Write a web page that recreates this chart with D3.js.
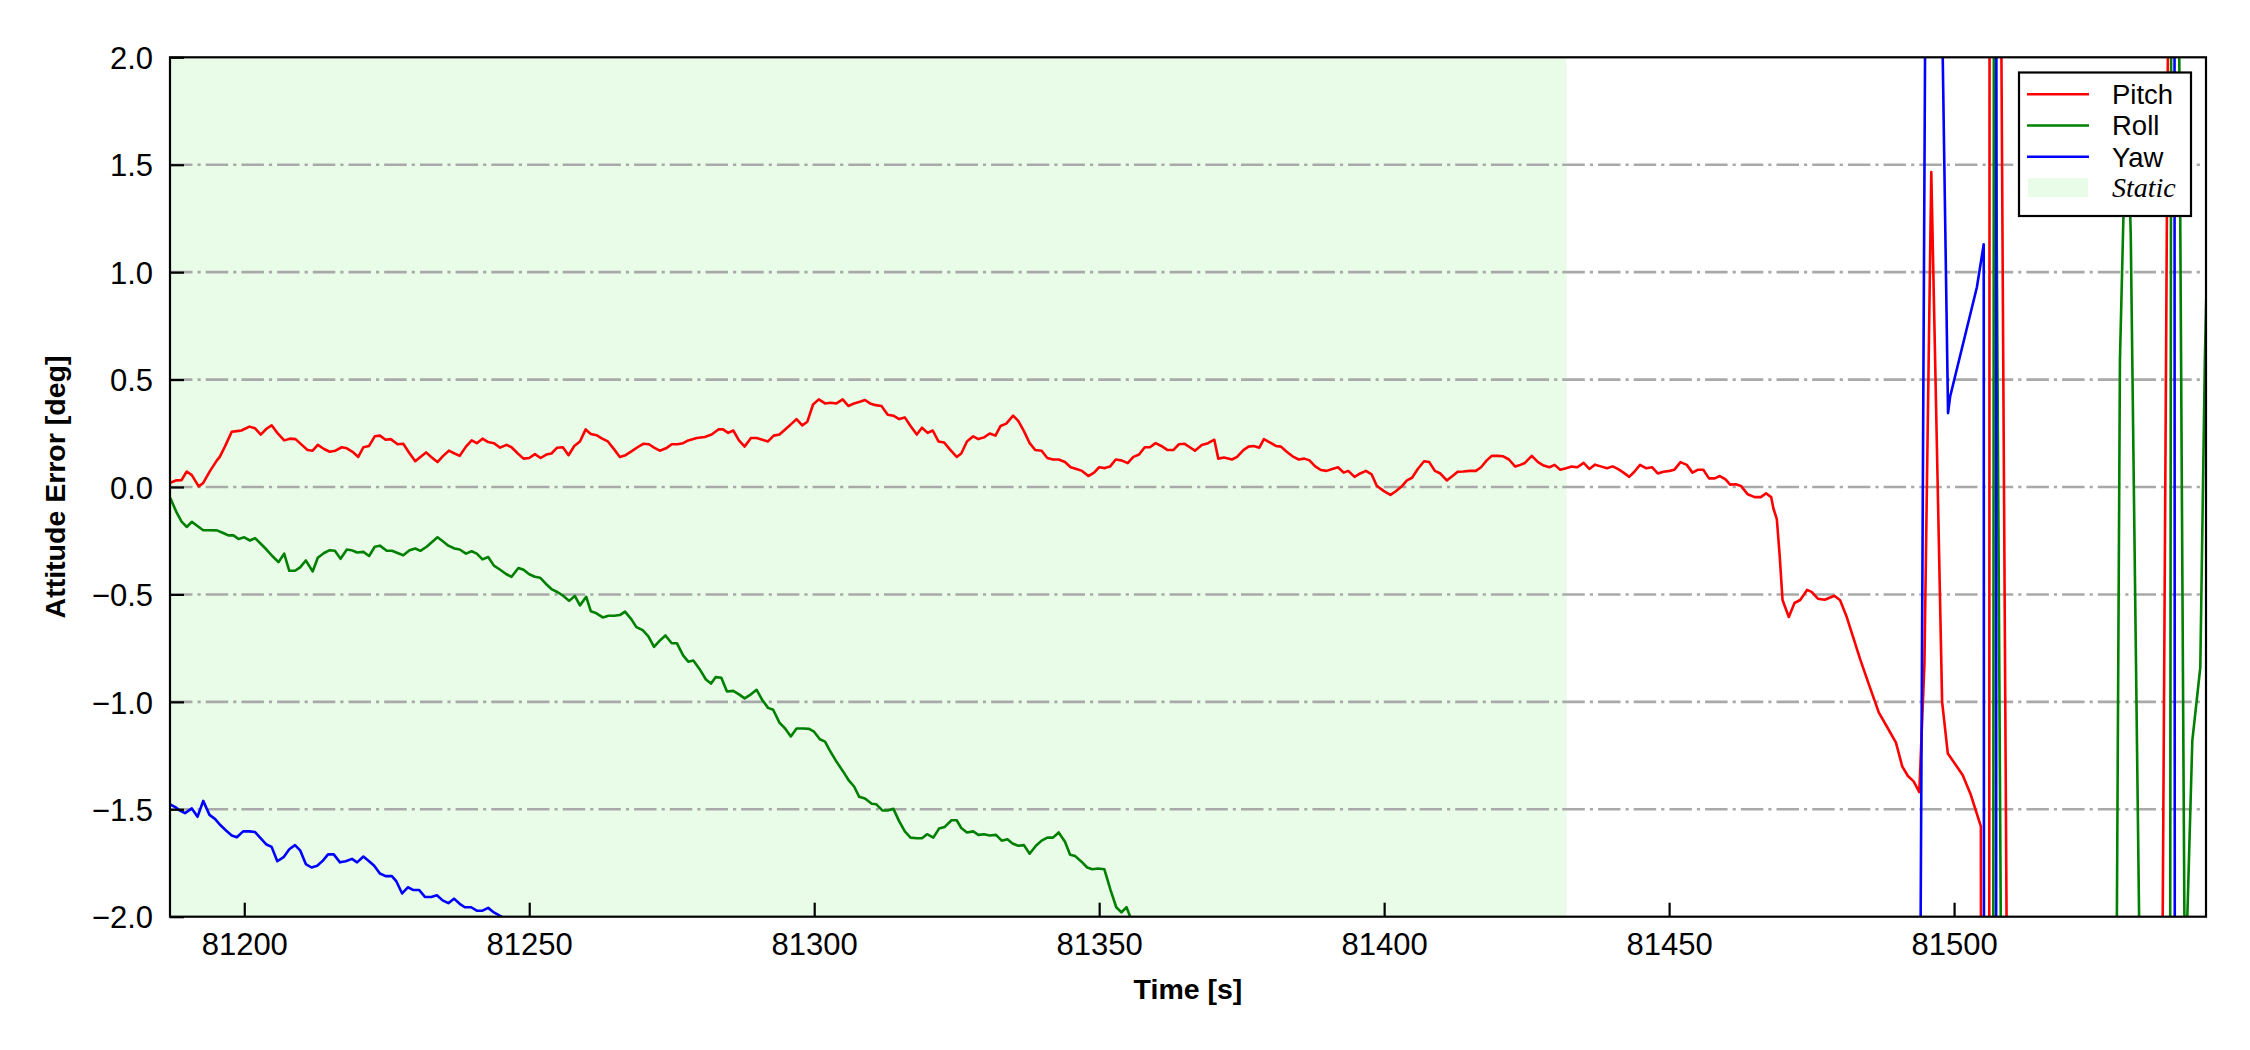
<!DOCTYPE html>
<html>
<head>
<meta charset="utf-8">
<script src="https://cdn.jsdelivr.net/npm/d3@7"></script>
<style>
  html, body { margin: 0; padding: 0; background: #ffffff; }
  svg { display: block; }
</style>
</head>
<body>
<svg id="chart" width="2250" height="1050"></svg>
<script>
// ---------------- DATA ----------------
const xDomain = [81186.97, 81544.2];
const yDomain = [-2, 2];
const xTickValues = [81200, 81250, 81300, 81350, 81400, 81450, 81500];
const yTickValues = [-2.0, -1.5, -1.0, -0.5, 0.0, 0.5, 1.0, 1.5, 2.0];
const staticSpan = [81180, 81432];
const seriesNames = ["Pitch", "Roll", "Yaw"];
const seriesColors = ["#ff0000", "#008000", "#0000ff"];

const pitch = [[81187.0,0.020],[81188.1,0.031],[81189.0,0.032],[81189.9,0.072],[81190.8,0.055],[81192.0,0.003],[81192.8,0.019],[81194.0,0.075],[81195.2,0.124],[81195.7,0.140],[81196.6,0.188],[81197.8,0.257],[81198.7,0.260],[81199.5,0.263],[81200.9,0.281],[81201.9,0.273],[81202.9,0.244],[81203.9,0.271],[81204.8,0.287],[81205.8,0.252],[81207.0,0.217],[81208.0,0.225],[81209.0,0.223],[81210.1,0.196],[81211.1,0.172],[81212.0,0.169],[81212.9,0.196],[81214.0,0.177],[81215.0,0.164],[81216.0,0.169],[81217.1,0.185],[81218.0,0.180],[81219.0,0.164],[81220.0,0.140],[81220.9,0.185],[81221.9,0.191],[81222.9,0.236],[81223.8,0.239],[81224.8,0.220],[81225.7,0.223],[81226.9,0.199],[81227.9,0.201],[81228.9,0.161],[81230.0,0.120],[81230.9,0.140],[81231.9,0.161],[81232.9,0.137],[81233.9,0.116],[81234.9,0.145],[81235.9,0.169],[81236.9,0.156],[81237.8,0.145],[81238.9,0.188],[81239.9,0.217],[81240.8,0.204],[81241.8,0.225],[81242.8,0.209],[81243.8,0.204],[81244.9,0.183],[81246.0,0.196],[81246.9,0.185],[81248.0,0.156],[81249.0,0.132],[81250.0,0.135],[81251.0,0.153],[81252.0,0.135],[81253.0,0.151],[81253.9,0.156],[81254.9,0.183],[81255.9,0.185],[81256.9,0.148],[81257.9,0.191],[81258.9,0.212],[81259.9,0.268],[81260.8,0.247],[81261.8,0.241],[81262.8,0.225],[81263.8,0.212],[81264.9,0.175],[81265.9,0.140],[81266.9,0.148],[81268.0,0.167],[81269.0,0.185],[81270.0,0.201],[81271.0,0.199],[81271.9,0.183],[81272.9,0.169],[81274.0,0.180],[81275.0,0.199],[81276.0,0.199],[81277.0,0.204],[81277.9,0.217],[81279.4,0.228],[81280.8,0.233],[81282.0,0.244],[81283.2,0.268],[81284.0,0.268],[81284.9,0.252],[81285.8,0.263],[81286.8,0.217],[81287.8,0.188],[81288.9,0.228],[81289.9,0.228],[81290.9,0.220],[81291.9,0.212],[81292.9,0.239],[81293.9,0.244],[81294.9,0.268],[81295.8,0.289],[81296.9,0.316],[81297.9,0.287],[81298.8,0.304],[81299.8,0.384],[81300.8,0.408],[81301.9,0.389],[81302.9,0.392],[81303.9,0.389],[81305.0,0.408],[81306.0,0.377],[81307.0,0.389],[81308.0,0.397],[81308.9,0.405],[81309.8,0.389],[81310.8,0.381],[81311.8,0.377],[81312.9,0.336],[81313.9,0.332],[81314.9,0.316],[81315.9,0.324],[81316.9,0.284],[81318.0,0.244],[81318.9,0.276],[81319.9,0.252],[81320.8,0.263],[81321.8,0.212],[81322.8,0.207],[81323.8,0.175],[81325.0,0.140],[81325.8,0.156],[81326.8,0.212],[81327.9,0.236],[81328.8,0.223],[81329.8,0.231],[81330.8,0.249],[81331.8,0.239],[81332.7,0.284],[81333.7,0.295],[81334.9,0.332],[81335.8,0.308],[81336.8,0.260],[81337.8,0.204],[81338.8,0.172],[81339.9,0.169],[81340.9,0.135],[81341.9,0.128],[81342.9,0.128],[81344.0,0.116],[81345.0,0.092],[81346.0,0.084],[81347.0,0.075],[81348.1,0.051],[81349.1,0.067],[81350.0,0.092],[81351.0,0.088],[81351.9,0.095],[81352.9,0.128],[81353.9,0.124],[81355.0,0.111],[81356.0,0.140],[81357.0,0.151],[81358.0,0.185],[81358.9,0.185],[81359.9,0.204],[81360.9,0.191],[81362.0,0.172],[81363.0,0.172],[81364.0,0.199],[81365.0,0.201],[81365.9,0.185],[81366.8,0.169],[81368.0,0.196],[81369.1,0.204],[81369.8,0.215],[81370.2,0.220],[81370.9,0.132],[81371.9,0.137],[81373.3,0.128],[81374.2,0.140],[81375.3,0.172],[81376.2,0.188],[81377.1,0.191],[81378.1,0.183],[81378.9,0.223],[81380.0,0.207],[81381.0,0.191],[81381.9,0.188],[81382.9,0.164],[81384.1,0.140],[81385.0,0.128],[81386.0,0.132],[81386.9,0.124],[81387.9,0.096],[81388.9,0.079],[81389.9,0.075],[81390.9,0.084],[81391.9,0.092],[81392.9,0.067],[81393.7,0.075],[81394.8,0.047],[81395.8,0.063],[81396.8,0.075],[81397.8,0.059],[81398.7,0.006],[81399.9,-0.018],[81401.1,-0.037],[81402.0,-0.021],[81403.1,0.003],[81404.0,0.031],[81404.9,0.043],[81405.9,0.084],[81407.0,0.120],[81407.9,0.116],[81408.9,0.075],[81409.8,0.064],[81411.0,0.031],[81412.0,0.051],[81412.9,0.071],[81413.9,0.072],[81415.0,0.075],[81416.1,0.075],[81417.0,0.092],[81418.0,0.124],[81418.9,0.145],[81419.9,0.145],[81420.9,0.143],[81421.9,0.128],[81423.0,0.095],[81423.9,0.103],[81424.7,0.112],[81425.9,0.145],[81427.0,0.116],[81428.0,0.100],[81429.0,0.092],[81429.9,0.103],[81430.9,0.080],[81431.9,0.087],[81432.9,0.095],[81433.9,0.092],[81435.0,0.112],[81436.0,0.084],[81437.0,0.104],[81438.0,0.096],[81439.1,0.087],[81440.1,0.096],[81441.0,0.084],[81442.0,0.067],[81443.0,0.047],[81443.9,0.071],[81444.9,0.103],[81446.0,0.087],[81447.0,0.092],[81448.0,0.063],[81449.0,0.071],[81450.1,0.075],[81450.9,0.080],[81452.0,0.116],[81453.1,0.103],[81454.1,0.067],[81455.0,0.080],[81456.0,0.080],[81457.0,0.040],[81458.0,0.040],[81458.9,0.051],[81459.9,0.035],[81460.7,0.011],[81461.7,0.013],[81462.6,0.005],[81463.8,-0.034],[81465.0,-0.047],[81466.1,-0.047],[81467.0,-0.029],[81467.9,-0.047],[81468.3,-0.100],[81468.9,-0.150],[81469.4,-0.320],[81469.9,-0.526],[81471.0,-0.605],[81472.0,-0.540],[81473.0,-0.526],[81474.2,-0.479],[81475.0,-0.488],[81476.1,-0.520],[81477.3,-0.525],[81479.0,-0.506],[81480.0,-0.527],[81481.1,-0.600],[81482.3,-0.700],[81483.5,-0.800],[81485.0,-0.915],[81486.8,-1.050],[81488.1,-1.110],[81489.8,-1.190],[81490.9,-1.300],[81491.9,-1.345],[81492.9,-1.370],[81493.9,-1.420],[81494.8,-0.820],[81496.0,1.466],[81497.9,-1.000],[81498.9,-1.240],[81501.5,-1.340],[81502.9,-1.430],[81504.7,-1.580],[81505.7,-40],[81506.7,40],[81507.7,4.7],[81509.7,-4.2],[81536.0,-4.7],[81538.0,4.2],[81546.0,5.0]];

const roll = [[81187.0,-0.050],[81188.1,-0.117],[81189.0,-0.161],[81189.9,-0.186],[81190.8,-0.162],[81191.6,-0.178],[81192.8,-0.201],[81194.0,-0.201],[81195.2,-0.202],[81196.3,-0.214],[81197.2,-0.225],[81198.1,-0.225],[81199.0,-0.242],[81200.0,-0.234],[81201.0,-0.249],[81201.9,-0.238],[81202.8,-0.262],[81203.9,-0.291],[81205.1,-0.326],[81206.0,-0.350],[81207.0,-0.310],[81207.9,-0.390],[81208.9,-0.390],[81209.8,-0.374],[81210.8,-0.342],[81212.0,-0.393],[81212.9,-0.329],[81214.0,-0.307],[81215.0,-0.294],[81215.9,-0.297],[81216.9,-0.334],[81218.0,-0.291],[81218.8,-0.294],[81219.8,-0.305],[81220.9,-0.302],[81221.9,-0.321],[81222.9,-0.278],[81223.8,-0.273],[81225.0,-0.297],[81225.9,-0.297],[81226.9,-0.307],[81227.9,-0.318],[81229.0,-0.294],[81230.0,-0.286],[81230.9,-0.297],[81232.0,-0.278],[81232.9,-0.257],[81233.9,-0.234],[81234.9,-0.254],[81235.8,-0.273],[81236.9,-0.286],[81237.8,-0.291],[81238.9,-0.310],[81239.9,-0.299],[81240.8,-0.310],[81241.8,-0.337],[81242.8,-0.326],[81243.8,-0.366],[81244.9,-0.385],[81246.0,-0.406],[81246.9,-0.418],[81248.1,-0.377],[81249.0,-0.385],[81250.0,-0.406],[81251.0,-0.418],[81251.9,-0.422],[81252.9,-0.450],[81253.9,-0.475],[81255.0,-0.490],[81256.0,-0.507],[81257.0,-0.530],[81258.0,-0.507],[81258.9,-0.551],[81260.0,-0.511],[81260.8,-0.578],[81261.8,-0.588],[81262.9,-0.607],[81263.9,-0.599],[81264.9,-0.599],[81265.9,-0.596],[81266.8,-0.580],[81267.9,-0.615],[81268.8,-0.652],[81269.9,-0.666],[81270.9,-0.695],[81271.9,-0.744],[81272.9,-0.715],[81273.9,-0.691],[81275.0,-0.727],[81275.9,-0.727],[81277.0,-0.784],[81277.9,-0.813],[81278.8,-0.808],[81279.9,-0.848],[81281.0,-0.896],[81281.9,-0.915],[81282.7,-0.885],[81283.7,-0.888],[81284.7,-0.952],[81285.8,-0.949],[81286.8,-0.965],[81287.8,-0.984],[81288.9,-0.965],[81289.9,-0.944],[81290.9,-0.992],[81291.9,-1.028],[81292.8,-1.037],[81293.9,-1.097],[81294.9,-1.124],[81295.9,-1.161],[81296.9,-1.124],[81298.1,-1.124],[81299.1,-1.126],[81299.9,-1.137],[81301.0,-1.174],[81301.9,-1.185],[81302.7,-1.225],[81303.9,-1.278],[81305.1,-1.325],[81306.1,-1.367],[81307.0,-1.394],[81307.9,-1.442],[81308.9,-1.450],[81310.1,-1.474],[81310.9,-1.477],[81312.0,-1.506],[81312.9,-1.506],[81313.9,-1.498],[81314.9,-1.555],[81315.9,-1.603],[81316.9,-1.632],[81318.0,-1.635],[81318.9,-1.635],[81319.8,-1.616],[81320.9,-1.632],[81321.9,-1.590],[81322.9,-1.582],[81324.1,-1.551],[81325.0,-1.551],[81325.8,-1.587],[81326.8,-1.608],[81327.9,-1.603],[81328.8,-1.619],[81329.8,-1.616],[81330.8,-1.622],[81331.9,-1.619],[81332.9,-1.646],[81333.9,-1.640],[81334.8,-1.659],[81335.8,-1.670],[81336.8,-1.667],[81337.8,-1.707],[81338.9,-1.670],[81339.9,-1.646],[81340.9,-1.632],[81341.9,-1.632],[81342.9,-1.608],[81344.0,-1.651],[81344.9,-1.712],[81345.8,-1.718],[81346.9,-1.744],[81347.9,-1.771],[81348.8,-1.779],[81349.8,-1.776],[81350.9,-1.779],[81352.0,-1.876],[81353.0,-1.956],[81353.9,-1.980],[81354.8,-1.956],[81355.5,-2.004],[81356.5,-2.08],[81400.0,-3.0],[81450.0,-4.2],[81500.0,-5.5],[81506.3,-30],[81507.0,3.3],[81509.0,-5.6],[81528.5,-2.3],[81529.1,0.59],[81530.3,1.9],[81531.0,1.17],[81532.6,-2.3],[81537.2,-20],[81538.3,7.4],[81540.5,-2.4],[81541.8,-1.18],[81543.2,-0.84],[81544.0,0.59],[81544.6,1.3]];

const yaw = [[81187.0,-1.477],[81187.9,-1.490],[81188.7,-1.506],[81189.6,-1.518],[81190.8,-1.496],[81191.8,-1.535],[81192.8,-1.461],[81193.9,-1.526],[81194.9,-1.546],[81195.7,-1.571],[81196.8,-1.599],[81197.8,-1.622],[81198.7,-1.630],[81199.8,-1.603],[81200.9,-1.603],[81201.9,-1.606],[81202.9,-1.635],[81203.9,-1.664],[81204.8,-1.675],[81205.8,-1.742],[81206.9,-1.723],[81207.9,-1.686],[81208.9,-1.667],[81209.8,-1.691],[81210.8,-1.755],[81211.8,-1.771],[81212.8,-1.763],[81213.8,-1.739],[81214.7,-1.710],[81215.7,-1.710],[81216.8,-1.747],[81217.8,-1.742],[81218.9,-1.731],[81219.8,-1.747],[81220.9,-1.720],[81221.9,-1.742],[81222.8,-1.763],[81223.8,-1.799],[81224.8,-1.811],[81225.9,-1.811],[81226.7,-1.836],[81227.7,-1.892],[81228.7,-1.863],[81229.7,-1.876],[81230.7,-1.876],[81231.7,-1.908],[81232.8,-1.908],[81233.8,-1.900],[81234.8,-1.924],[81235.8,-1.937],[81236.8,-1.916],[81237.8,-1.940],[81238.7,-1.956],[81239.8,-1.956],[81240.8,-1.972],[81241.8,-1.972],[81242.8,-1.959],[81243.8,-1.980],[81244.9,-1.996],[81245.5,-2.007],[81247.0,-2.05],[81300.0,-2.6],[81400.0,-3.6],[81493.5,-5.3],[81495.5,5.1],[81497.5,2.9],[81498.94,0.344],[81499.3,0.42],[81504.0,0.93],[81505.2,1.13],[81505.7,-40],[81507.0,-40],[81507.8,40],[81538.3,40],[81539.1,-40],[81546.0,-30]];

const seriesData = [pitch, roll, yaw];

// ---------------- LAYOUT ----------------
const plot = { left: 170, right: 2206, top: 57.3, bottom: 916.7 };
const svg = d3.select("#chart");
svg.append("rect").attr("width", 2250).attr("height", 1050).attr("fill", "#ffffff");

const x = d3.scaleLinear().domain(xDomain).range([plot.left, plot.right]);
const y = d3.scaleLinear().domain(yDomain).range([plot.bottom, plot.top]);

svg.append("defs").append("clipPath").attr("id", "plotClip")
  .append("rect")
  .attr("x", plot.left).attr("y", plot.top)
  .attr("width", plot.right - plot.left).attr("height", plot.bottom - plot.top);

const g = svg.append("g").attr("clip-path", "url(#plotClip)");

// static span
g.append("rect")
  .attr("x", x(staticSpan[0]))
  .attr("y", plot.top)
  .attr("width", x(staticSpan[1]) - x(staticSpan[0]))
  .attr("height", plot.bottom - plot.top)
  .attr("fill", "rgb(232,252,232)");

// grid
g.selectAll("line.grid")
  .data(yTickValues.filter(v => v > yDomain[0] && v < yDomain[1]))
  .enter().append("line")
  .attr("class", "grid")
  .attr("x1", plot.left).attr("x2", plot.right)
  .attr("y1", d => y(d)).attr("y2", d => y(d))
  .attr("stroke", "#a9a9a9")
  .attr("stroke-width", 2.6)
  .attr("stroke-dasharray", "22.5,5,3.2,5");

// series
const line = d3.line().x(d => x(d[0])).y(d => y(d[1]));
seriesData.forEach((data, i) => {
  g.append("path")
    .datum(data)
    .attr("d", line)
    .attr("fill", "none")
    .attr("stroke", seriesColors[i])
    .attr("stroke-width", 2.6)
    .attr("stroke-linejoin", "round");
});

// frame
svg.append("rect")
  .attr("x", plot.left).attr("y", plot.top)
  .attr("width", plot.right - plot.left).attr("height", plot.bottom - plot.top)
  .attr("fill", "none").attr("stroke", "#000").attr("stroke-width", 2.2);

// axes
const fmtY = d => (d < 0 ? "\u2212" : "") + Math.abs(d).toFixed(1);
const xAxis = d3.axisBottom(x).tickValues(xTickValues).tickSize(-14).tickPadding(0).tickFormat(d3.format("d"));
const yAxis = d3.axisLeft(y).tickValues(yTickValues).tickSize(-14).tickPadding(0).tickFormat(fmtY);

const gx = svg.append("g").attr("transform", `translate(0,${plot.bottom})`).call(xAxis);
const gy = svg.append("g").attr("transform", `translate(${plot.left},0)`).call(yAxis);
[gx, gy].forEach(a => {
  a.select(".domain").remove();
  a.selectAll(".tick line").attr("stroke", "#000").attr("stroke-width", 2.2);
  a.selectAll(".tick text")
    .attr("fill", "#000")
    .style("font-family", "'Liberation Sans', Arial, sans-serif")
    .style("font-size", "31px");
});
gx.selectAll(".tick text").attr("y", 38.5).attr("dy", null);
gy.selectAll(".tick text").attr("x", -17).attr("dy", "0.36em");

// axis labels
svg.append("text")
  .attr("x", (plot.left + plot.right) / 2).attr("y", 999)
  .attr("text-anchor", "middle")
  .style("font-family", "'Liberation Sans', Arial, sans-serif")
  .style("font-size", "28.5px").style("font-weight", "bold")
  .text("Time [s]");
svg.append("text")
  .attr("transform", `translate(64.5,${(plot.top + plot.bottom) / 2}) rotate(-90)`)
  .attr("text-anchor", "middle")
  .style("font-family", "'Liberation Sans', Arial, sans-serif")
  .style("font-size", "28.5px").style("font-weight", "bold")
  .text("Attitude Error [deg]");

// legend
const lg = svg.append("g");
lg.append("rect")
  .attr("x", 2019).attr("y", 72.5).attr("width", 172).attr("height", 143.5)
  .attr("fill", "#fff").attr("stroke", "#000").attr("stroke-width", 2.2);
const rowY = [94.3, 125.5, 156.7, 187.8];
seriesNames.forEach((name, i) => {
  lg.append("line")
    .attr("x1", 2027).attr("x2", 2089)
    .attr("y1", rowY[i]).attr("y2", rowY[i])
    .attr("stroke", seriesColors[i]).attr("stroke-width", 2.6);
  lg.append("text")
    .attr("x", 2112).attr("y", rowY[i]).attr("dy", "0.36em")
    .style("font-family", "'Liberation Sans', Arial, sans-serif")
    .style("font-size", "27.5px")
    .text(name);
});
lg.append("rect")
  .attr("x", 2028).attr("y", rowY[3] - 9.5).attr("width", 60).attr("height", 19)
  .attr("fill", "rgb(232,252,232)");
lg.append("text")
  .attr("x", 2112).attr("y", rowY[3]).attr("dy", "0.33em")
  .style("font-family", "'Liberation Serif', 'Times New Roman', serif")
  .style("font-style", "italic")
  .style("font-size", "28px")
  .text("Static");
</script>
</body>
</html>
